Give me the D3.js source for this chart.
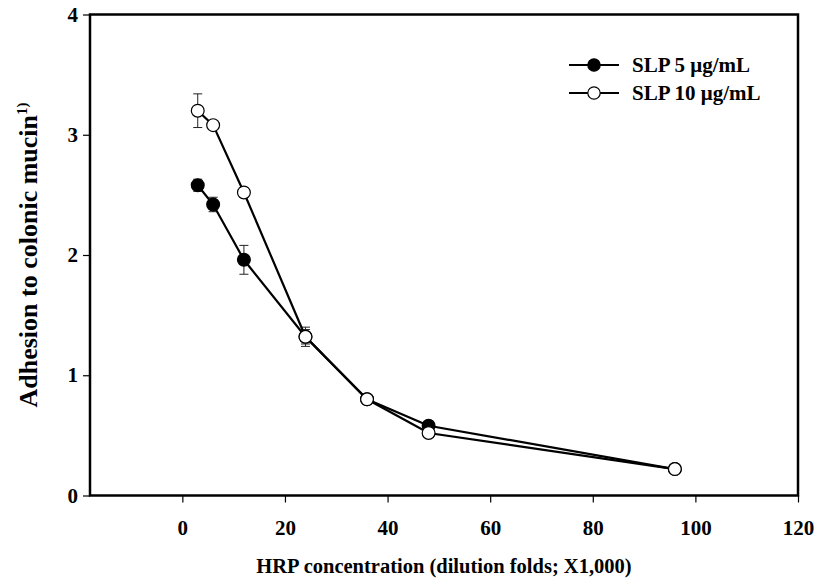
<!DOCTYPE html>
<html>
<head>
<meta charset="utf-8">
<script src="https://cdn.jsdelivr.net/npm/d3@7"></script>
<style>
  html, body { margin: 0; padding: 0; background: #fff; }
  svg text { font-family: "Liberation Serif", "Times New Roman", serif; font-weight: bold; fill: #000; }
</style>
</head>
<body>
<svg id="chart" width="819" height="584"></svg>
<script>
// HRP dilution (x1,000) and adhesion readings for the two SLP doses
const dilution = [3, 6, 12, 24, 36, 48, 96];
const slp5 = [2.58, 2.42, 1.96, 1.32, 0.80, 0.58, 0.22];
const slp5Err = [0.05, 0.06, 0.12, 0.08, 0.03, 0.02, 0.02];
const slp10 = [3.20, 3.08, 2.52, 1.32, 0.80, 0.52, 0.22];
const slp10Err = [0.14, 0.03, 0.02, 0.06, 0.03, 0.02, 0.02];
const seriesNames = ["SLP 5 \u03bcg/mL", "SLP 10 \u03bcg/mL"];
const xTicks = [0, 20, 40, 60, 80, 100, 120];
const yTicks = [0, 1, 2, 3, 4];

const svg = d3.select("#chart");
const plotLeft = 90, plotRight = 798, plotTop = 14.5, plotBottom = 495.5;

const x = d3.scaleLinear().domain([-18, 120]).range([plotLeft, plotRight]);
const y = d3.scaleLinear().domain([0, 4]).range([plotBottom, plotTop]);

// axes
const xAxis = svg.append("g").attr("transform", `translate(0,${plotBottom})`)
  .call(d3.axisBottom(x).tickValues(xTicks).tickSize(7).tickPadding(18).tickFormat(d3.format("d")));
const yAxis = svg.append("g").attr("transform", `translate(${plotLeft},0)`)
  .call(d3.axisLeft(y).tickValues(yTicks).tickSize(7).tickPadding(5).tickFormat(d3.format("d")));
[xAxis, yAxis].forEach(g => {
  g.select(".domain").remove();
  g.selectAll(".tick line").attr("stroke", "#000").attr("stroke-width", 1.2);
  g.selectAll(".tick text").style("font-size", "21px").style("font-family", "Liberation Serif").style("font-weight", "bold").attr("fill", "#000");
});

// frame
svg.append("rect").attr("x", plotLeft).attr("y", plotTop)
  .attr("width", plotRight - plotLeft).attr("height", plotBottom - plotTop)
  .attr("fill", "none").attr("stroke", "#000").attr("stroke-width", 2.5);

const series = [
  { name: seriesNames[0], vals: slp5, err: slp5Err, fill: "#000" },
  { name: seriesNames[1], vals: slp10, err: slp10Err, fill: "#fff" }
];

const line = d3.line().x((d, i) => x(dilution[i])).y(d => y(d));

series.forEach(s => {
  const g = svg.append("g");
  // error bars
  dilution.forEach((dv, i) => {
    const cx = x(dv), y1 = y(s.vals[i] + s.err[i]), y0 = y(s.vals[i] - s.err[i]);
    g.append("line").attr("x1", cx).attr("x2", cx).attr("y1", y1).attr("y2", y0)
      .attr("stroke", "#222").attr("stroke-width", 1);
    [y0, y1].forEach(yy => g.append("line").attr("x1", cx - 4.5).attr("x2", cx + 4.5)
      .attr("y1", yy).attr("y2", yy).attr("stroke", "#222").attr("stroke-width", 1));
  });
  g.append("path").datum(s.vals).attr("d", line)
    .attr("fill", "none").attr("stroke", "#000").attr("stroke-width", 2.2);
  g.selectAll("circle").data(s.vals).join("circle")
    .attr("cx", (d, i) => x(dilution[i])).attr("cy", d => y(d)).attr("r", 6.4)
    .attr("fill", s.fill).attr("stroke", "#000").attr("stroke-width", 1.2);
});

// legend
const lg = svg.append("g");
series.forEach((s, i) => {
  const cy = 65 + i * 28;
  lg.append("line").attr("x1", 569).attr("x2", 619).attr("y1", cy).attr("y2", cy)
    .attr("stroke", "#000").attr("stroke-width", 2);
  lg.append("circle").attr("cx", 594).attr("cy", cy).attr("r", 6.2)
    .attr("fill", s.fill).attr("stroke", "#000").attr("stroke-width", 1.2);
  lg.append("text").attr("x", 632).attr("y", cy + 7).style("font-size", "21px").text(s.name);
});

// axis titles
svg.append("text").attr("x", (plotLeft + plotRight) / 2).attr("y", 573)
  .attr("text-anchor", "middle").style("font-size", "20.5px")
  .text("HRP concentration (dilution folds; X1,000)");

const yt = svg.append("text")
  .attr("transform", `translate(37,${(plotTop + plotBottom) / 2}) rotate(-90)`)
  .attr("text-anchor", "middle").style("font-size", "26px");
yt.append("tspan").text("Adhesion to colonic mucin");
yt.append("tspan").attr("dy", -10).style("font-size", "15px").text("1)");
</script>
</body>
</html>
